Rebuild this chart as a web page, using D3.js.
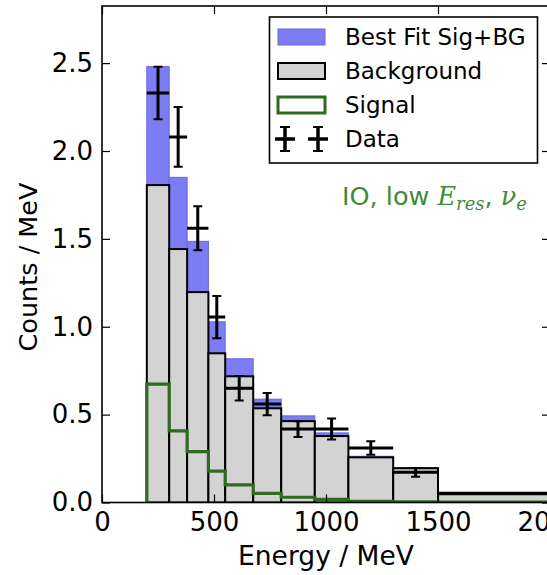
<!DOCTYPE html>
<html>
<head>
<meta charset="utf-8">
<script src="https://cdn.jsdelivr.net/npm/d3@7/dist/d3.min.js"></script>
<style>
  html, body { margin: 0; padding: 0; background: #fff; }
  svg { display: block; font-family: "DejaVu Sans", sans-serif; }
</style>
</head>
<body>
<svg id="chart" width="547" height="575"></svg>
<script>
// Bin edges in MeV (last bin runs past the visible range)
const binEdges = [200, 300, 380, 475, 550, 675, 800, 950, 1100, 1300, 1500, 2500];
// Expected background counts per MeV for each bin
const background = [1.806, 1.442, 1.197, 0.849, 0.718, 0.536, 0.463, 0.378, 0.257, 0.195, 0.047];
// Expected signal counts per MeV for each bin
const signal = [0.674, 0.408, 0.289, 0.179, 0.100, 0.052, 0.030, 0.018, 0.006, 0.004, 0.002];
// Observed data and its statistical error
const dataValues = [2.33, 2.08, 1.56, 1.055, 0.65, 0.56, 0.418, 0.418, 0.31, 0.172, 0.052];
const dataErrors = [0.15, 0.17, 0.125, 0.12, 0.07, 0.063, 0.045, 0.06, 0.038, 0.025, 0.0];
// Axis ticks
const xTicks = [0, 500, 1000, 1500, 2000];
const yTicks = [0.0, 0.5, 1.0, 1.5, 2.0, 2.5];
const legendLabels = ["Best Fit Sig+BG", "Background", "Signal", "Data"];

const svg = d3.select("#chart");
const plotLeft = 102, plotRight = 550, plotTop = 6, plotBottom = 502.5;

const x = d3.scaleLinear().domain([0, 2000]).range([plotLeft, plotRight]);
const y = d3.scaleLinear().domain([0, 2.825]).range([plotBottom, plotTop]);

const BLUE = "#7c7cf4", BLUE_EDGE = "#6868d6", GRAY = "#d3d3d3";
const SIG_GREEN = "#2e6b1e", TEXT_GREEN = "#3f8c38";

svg.append("defs").append("clipPath").attr("id", "plotClip")
  .append("rect").attr("x", plotLeft).attr("y", plotTop)
  .attr("width", plotRight - plotLeft).attr("height", plotBottom - plotTop);

const plot = svg.append("g").attr("clip-path", "url(#plotClip)");

const bins = background.map((b, i) => ({
  x0: binEdges[i], x1: binEdges[i + 1], bg: b, sig: signal[i],
  d: dataValues[i], e: dataErrors[i]
}));

// Best fit (signal stacked on background)
plot.selectAll("rect.fit").data(bins).join("rect").attr("class", "fit")
  .attr("x", d => x(d.x0)).attr("width", d => x(d.x1) - x(d.x0))
  .attr("y", d => y(d.bg + d.sig)).attr("height", d => y(0) - y(d.bg + d.sig))
  .attr("fill", BLUE).attr("stroke", BLUE_EDGE).attr("stroke-width", 1);

// Background
plot.selectAll("rect.bg").data(bins).join("rect").attr("class", "bg")
  .attr("x", d => x(d.x0)).attr("width", d => x(d.x1) - x(d.x0))
  .attr("y", d => y(d.bg)).attr("height", d => y(0) - y(d.bg))
  .attr("fill", GRAY).attr("stroke", "#000").attr("stroke-width", 2);

// Signal as a step outline
const stepPts = [[binEdges[0], 0]];
bins.forEach(d => stepPts.push([d.x0, d.sig]));
stepPts.push([binEdges[binEdges.length - 1], signal[signal.length - 1]]);
stepPts.push([binEdges[binEdges.length - 1], 0]);
plot.append("path").datum(stepPts)
  .attr("d", d3.line().x(p => x(p[0])).y(p => y(p[1])).curve(d3.curveStepAfter))
  .attr("fill", "none").attr("stroke", SIG_GREEN).attr("stroke-width", 3.2);

// Data with error bars
const eb = plot.append("g").attr("stroke", "#000").attr("stroke-width", 3);
bins.forEach(d => {
  const cx = x((d.x0 + d.x1) / 2);
  eb.append("line").attr("x1", x(d.x0)).attr("x2", x(d.x1))
    .attr("y1", y(d.d)).attr("y2", y(d.d));
  if (d.e > 0) {
    eb.append("line").attr("x1", cx).attr("x2", cx)
      .attr("y1", y(d.d - d.e)).attr("y2", y(d.d + d.e));
    [d.d - d.e, d.d + d.e].forEach(v => {
      eb.append("line").attr("x1", cx - 4.5).attr("x2", cx + 4.5)
        .attr("y1", y(v)).attr("y2", y(v)).attr("stroke-width", 2);
    });
  }
});

// Axes with inward ticks on all four sides
const tickLen = 8;
const styleAxis = g => {
  g.select(".domain").remove();
  g.selectAll(".tick line").attr("stroke", "#000").attr("stroke-width", 1.2);
  g.selectAll(".tick text").attr("fill", "#000").style("font-size", "26px")
    .style("font-family", "'DejaVu Sans', sans-serif");
};
svg.append("g").attr("transform", `translate(0,${plotBottom})`)
  .call(d3.axisBottom(x).tickValues(xTicks).tickFormat(d3.format("d"))
    .tickSizeInner(-tickLen).tickSizeOuter(0).tickPadding(10))
  .call(styleAxis);
svg.append("g").attr("transform", `translate(0,${plotTop})`)
  .call(d3.axisTop(x).tickValues(xTicks).tickFormat("")
    .tickSizeInner(-tickLen).tickSizeOuter(0))
  .call(styleAxis);
svg.append("g").attr("transform", `translate(${plotLeft},0)`)
  .call(d3.axisLeft(y).tickValues(yTicks).tickFormat(d3.format(".1f"))
    .tickSizeInner(-tickLen).tickSizeOuter(0).tickPadding(9))
  .call(styleAxis);
svg.append("g").attr("transform", `translate(${plotRight},0)`)
  .call(d3.axisRight(y).tickValues(yTicks).tickFormat("")
    .tickSizeInner(-tickLen).tickSizeOuter(0))
  .call(styleAxis);

// Frame
svg.append("rect").attr("x", plotLeft).attr("y", plotTop)
  .attr("width", plotRight - plotLeft).attr("height", plotBottom - plotTop)
  .attr("fill", "none").attr("stroke", "#000").attr("stroke-width", 1.6);

// Axis titles
svg.append("text").attr("x", (plotLeft + plotRight) / 2).attr("y", 565)
  .attr("text-anchor", "middle").style("font-size", "26.5px").text("Energy / MeV");
svg.append("text").attr("transform", "translate(37,267) rotate(-90)")
  .attr("text-anchor", "middle").style("font-size", "25.5px").text("Counts / MeV");

// Annotation
const ann = svg.append("text").attr("x", 527).attr("y", 205)
  .attr("text-anchor", "end").attr("fill", TEXT_GREEN).style("font-size", "25.5px");
ann.append("tspan").text("IO, low ");
ann.append("tspan").style("font-family", "'DejaVu Serif', serif").style("font-style", "italic").text("E");
ann.append("tspan").attr("dy", 5).style("font-family", "'DejaVu Serif', serif")
  .style("font-style", "italic").style("font-size", "18px").text("res");
ann.append("tspan").attr("dy", -5).text(", ");
ann.append("tspan").style("font-family", "'DejaVu Serif', serif").style("font-style", "italic").text("ν");
ann.append("tspan").attr("dy", 5).style("font-family", "'DejaVu Serif', serif")
  .style("font-style", "italic").style("font-size", "18px").text("e");

// Legend
const lg = svg.append("g");
lg.append("rect").attr("x", 269.5).attr("y", 17).attr("width", 268).attr("height", 146)
  .attr("fill", "#fff").attr("stroke", "#000").attr("stroke-width", 1.6);
const rowY = [37, 71, 105, 139];
lg.append("rect").attr("x", 278).attr("y", rowY[0] - 8).attr("width", 47).attr("height", 16)
  .attr("fill", BLUE).attr("stroke", BLUE_EDGE).attr("stroke-width", 1);
lg.append("rect").attr("x", 278).attr("y", rowY[1] - 8).attr("width", 47).attr("height", 16)
  .attr("fill", GRAY).attr("stroke", "#000").attr("stroke-width", 2);
lg.append("rect").attr("x", 278).attr("y", rowY[2] - 8).attr("width", 47).attr("height", 16)
  .attr("fill", "#fff").attr("stroke", SIG_GREEN).attr("stroke-width", 3);
[285, 318].forEach(cx => {
  const cy = rowY[3];
  const g = lg.append("g").attr("stroke", "#000");
  g.append("line").attr("x1", cx - 10).attr("x2", cx + 10).attr("y1", cy).attr("y2", cy).attr("stroke-width", 3.5);
  g.append("line").attr("x1", cx).attr("x2", cx).attr("y1", cy - 12).attr("y2", cy + 12).attr("stroke-width", 3.5);
  g.append("line").attr("x1", cx - 5).attr("x2", cx + 5).attr("y1", cy - 12).attr("y2", cy - 12).attr("stroke-width", 2);
  g.append("line").attr("x1", cx - 5).attr("x2", cx + 5).attr("y1", cy + 12).attr("y2", cy + 12).attr("stroke-width", 2);
});
lg.selectAll("text.lbl").data(legendLabels).join("text").attr("class", "lbl")
  .attr("x", 345).attr("y", (d, i) => rowY[i]).attr("dy", "0.36em")
  .style("font-size", "23px").text(d => d);
</script>
</body>
</html>
